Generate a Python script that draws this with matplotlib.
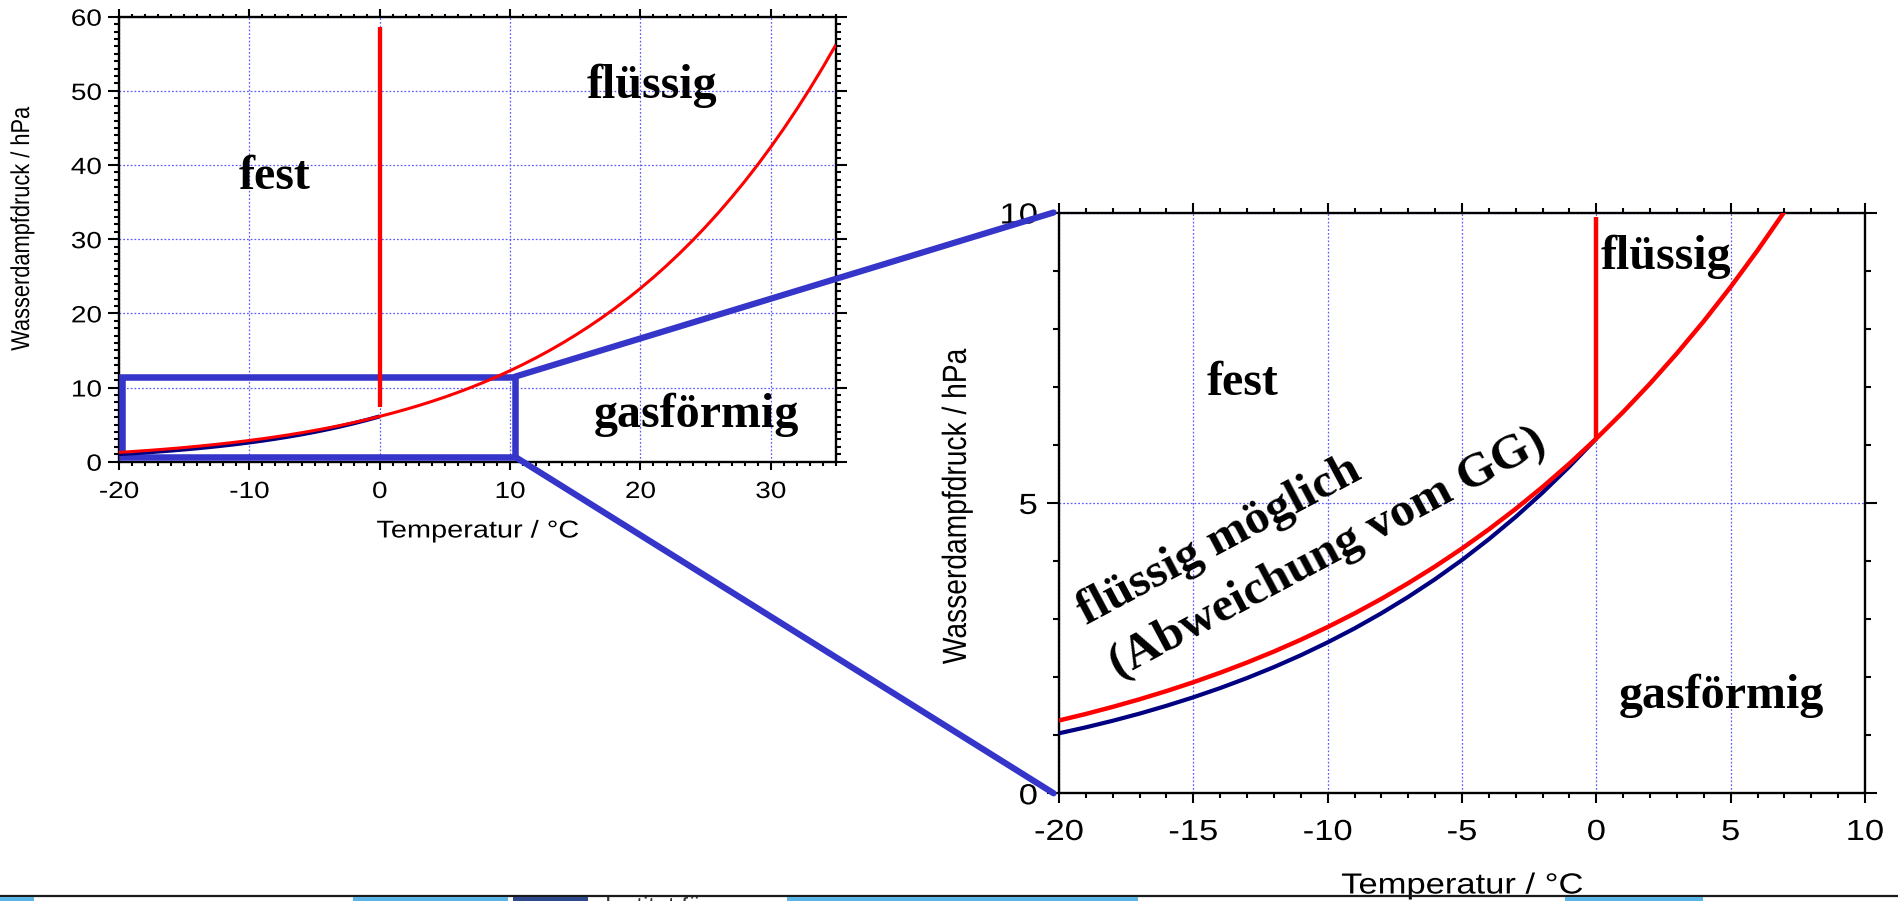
import matplotlib
matplotlib.use("Agg")
import matplotlib.pyplot as plt
from matplotlib.patches import Rectangle, ConnectionPatch
from matplotlib.patheffects import AbstractPathEffect
from matplotlib.transforms import Affine2D
from matplotlib.lines import Line2D

# ---------------------------------------------------------------- data
# Saturation vapour pressure over liquid water (hPa), 1 degC steps
t_water = list(range(-20, 36))
e_water = [1.254, 1.366, 1.488, 1.619, 1.760, 1.912, 2.076, 2.252, 2.441, 2.644,
           2.863, 3.097, 3.348, 3.618, 3.906, 4.215, 4.545, 4.898, 5.275, 5.678,
           6.108, 6.566, 7.055, 7.575, 8.129, 8.719, 9.347, 10.013, 10.722, 11.474,
           12.272, 13.119, 14.017, 14.969, 15.977, 17.044, 18.173, 19.367, 20.630, 21.964,
           23.373, 24.861, 26.430, 28.086, 29.831, 31.671, 33.608, 35.649, 37.796, 40.055,
           42.430, 44.927, 47.551, 50.307, 53.200, 56.236]

# Saturation vapour pressure over ice (hPa), 1 degC steps
t_ice = list(range(-20, 1))
e_ice = [1.033, 1.136, 1.249, 1.372, 1.507, 1.653, 1.812, 1.985, 2.173, 2.377,
         2.599, 2.839, 3.100, 3.382, 3.687, 4.017, 4.375, 4.760, 5.177, 5.627,
         6.107]

# Melting line (0 degC) in both panels
melt_t = [0, 0]
melt_e_overview = [7.4, 58.6]
melt_e_detail = [6.11, 9.92]

# Region of the overview that is enlarged on the right
zoom_t = [-19.8, 10.37]
zoom_e = [0.67, 11.46]

# Axis ranges and ticks
overview_xlim, overview_ylim = (-20, 35), (0, 60)
overview_xticks = [-20, -10, 0, 10, 20, 30]
overview_yticks = [0, 10, 20, 30, 40, 50, 60]
detail_xlim, detail_ylim = (-20, 10), (0, 10)
detail_xticks = [-20, -15, -10, -5, 0, 5, 10]
detail_yticks = [0, 5, 10]

xlabel_text = "Temperatur / °C"
ylabel_text = "Wasserdampfdruck / hPa"

# ---------------------------------------------------------------- style
plt.rcParams["font.family"] = ["Liberation Sans", "DejaVu Sans"]
plt.rcParams["axes.unicode_minus"] = False
RED = "#ff0000"
NAVY = "#000080"
FRAME_BLUE = "#3535c9"
GRID_BLUE = "#5a5aff"
W, H = 1898, 901


class WideGlyphs(AbstractPathEffect):
    """Draw text glyphs widened horizontally around an anchor."""

    def __init__(self, factor=1.19, anchor="center"):
        super().__init__()
        self.factor = factor
        self.anchor = anchor

    def draw_path(self, renderer, gc, tpath, affine, rgbFace=None):
        ext = tpath.get_extents(affine)
        if self.anchor == "right":
            cx = ext.x1
        elif self.anchor == "left":
            cx = ext.x0
        else:
            cx = 0.5 * (ext.x0 + ext.x1)
        widen = Affine2D().translate(-cx, 0).scale(self.factor, 1.0).translate(cx, 0)
        renderer.draw_path(gc, tpath, affine + widen, rgbFace)


def frame(x0, x1, ytop, ybot):
    return [x0 / W, 1 - ybot / H, (x1 - x0) / W, (ybot - ytop) / H]


def px(v):
    return v * 72.0 / 100.0


def style_axes(ax, xlim, ylim, xticks, yticks, size, xlen, ylen, xpad, ypad):
    ax.set_xlim(*xlim)
    ax.set_ylim(*ylim)
    ax.set_xticks(xticks)
    ax.set_yticks(yticks)
    ax.set_xticks(list(range(xlim[0], xlim[1] + 1)), minor=True)
    ax.set_yticks(list(range(ylim[0], ylim[1] + 1)), minor=True)
    for s in ax.spines.values():
        s.set_linewidth(1.7)
        s.set_color("black")
    ax.tick_params(which="both", direction="out", top=True, right=True,
                   width=1.5, color="black", labelsize=size)
    ax.tick_params(axis="x", which="major", length=px(xlen[0]), pad=px(xpad))
    ax.tick_params(axis="x", which="minor", length=px(xlen[1]))
    ax.tick_params(axis="y", which="major", length=px(ylen[0]), pad=px(ypad))
    ax.tick_params(axis="y", which="minor", length=px(ylen[1]))
    ax.grid(which="major", color=GRID_BLUE, linestyle=(0, (1.4, 1.6)), linewidth=0.9)
    for lab in ax.get_xticklabels():
        lab.set_path_effects([WideGlyphs(1.19, "center")])
    for lab in ax.get_yticklabels():
        lab.set_path_effects([WideGlyphs(1.19, "right")])


fig = plt.figure(figsize=(W / 100, H / 100), dpi=100)
fig.patch.set_facecolor("white")

ax1 = fig.add_axes(frame(119, 836, 16.7, 461.7))
ax2 = fig.add_axes(frame(1059, 1865, 212.5, 793.3))

# ---------------------------------------------------------------- overview
style_axes(ax1, overview_xlim, overview_ylim, overview_xticks, overview_yticks,
           16.9, (8, 3.5), (10.7, 4.7), 10.3, 6.6)
ax1.plot(t_ice, e_ice, color=NAVY, lw=3.0, zorder=5, solid_capstyle="butt")
ax1.plot(t_water, e_water, color=RED, lw=2.2, zorder=6, solid_capstyle="butt")
ax1.plot(melt_t, melt_e_overview, color=RED, lw=3.1, zorder=6, solid_capstyle="butt")
ax1.add_patch(Rectangle((zoom_t[0], zoom_e[0]), zoom_t[1] - zoom_t[0],
                        zoom_e[1] - zoom_e[0], fill=False, ec=FRAME_BLUE,
                        lw=4.7, joinstyle="miter", clip_on=False, zorder=4))

serif = dict(family=["Liberation Serif", "DejaVu Serif"], weight="bold",
             fontsize=34.6, ha="left", va="baseline", color="black")
ax1.text(-10.8, 36.75, "fest", **serif)
ax1.text(15.85, 49.0, "flüssig", **serif)
ax1.text(16.45, 4.68, "gasförmig", **serif)

ax1.set_xlabel(xlabel_text, fontsize=17.5)
ax1.xaxis.set_label_coords(0.5, -0.1703)
ax1.xaxis.label.set_va("baseline")
ax1.xaxis.label.set_path_effects([WideGlyphs(1.19, "center")])
ax1.set_ylabel(ylabel_text, fontsize=15.7)
ax1.yaxis.set_label_coords(-0.1346, 0.5218)
ax1.yaxis.label.set_va("center")
ax1.yaxis.label.set_path_effects([WideGlyphs(1.19, "center")])

# ---------------------------------------------------------------- detail
style_axes(ax2, detail_xlim, detail_ylim, detail_xticks, detail_yticks,
           20.9, (10, 5), (11.7, 6), 14.7, 9.6)
ax2.plot(t_ice, e_ice, color=NAVY, lw=3.0, zorder=5, solid_capstyle="butt")
ax2.plot(t_water, e_water, color=RED, lw=3.2, zorder=6, solid_capstyle="butt")
ax2.plot(melt_t, melt_e_detail, color=RED, lw=3.2, zorder=6, solid_capstyle="butt")

ax2.text(-14.49, 6.86, "fest", **serif)
ax2.text(0.17, 9.02, "flüssig", **serif)
ax2.text(0.84, 1.47, "gasförmig", **serif)
rot = dict(serif, fontsize=35.5, rotation=28, rotation_mode="anchor")
ax2.text(-19.0, 2.9, "flüssig möglich", **rot)
ax2.text(-17.8, 1.98, "(Abweichung vom GG)", **rot)

ax2.set_xlabel(xlabel_text, fontsize=20.9)
ax2.xaxis.set_label_coords(0.5, -0.1725)
ax2.xaxis.label.set_va("baseline")
ax2.xaxis.label.set_path_effects([WideGlyphs(1.19, "center")])
ax2.set_ylabel(ylabel_text, fontsize=20.3)
ax2.yaxis.set_label_coords(-0.1259, 0.4947)
ax2.yaxis.label.set_va("center")
ax2.yaxis.label.set_path_effects([WideGlyphs(1.19, "center")])

# ---------------------------------------------------------------- connectors
for (xa, ya), (xb, yb) in [((zoom_t[1], zoom_e[1]), (-20.2, detail_ylim[1])),
                           ((zoom_t[1], zoom_e[0]), (-20.2, detail_ylim[0]))]:
    con = ConnectionPatch(xyA=(xa, ya), coordsA=ax1.transData,
                          xyB=(xb, yb), coordsB=ax2.transData,
                          color=FRAME_BLUE, lw=4.5, zorder=3)
    fig.add_artist(con)

# ---------------------------------------------------------------- footer strip
fig.add_artist(Line2D([0, 1], [1 - 895.5 / H] * 2, transform=fig.transFigure,
                      color="#1a1a1a", lw=1.6, zorder=5))
for x0, x1 in [(0, 34), (353, 508), (787, 1138), (1565, 1703)]:
    fig.add_artist(Rectangle((x0 / W, 0), (x1 - x0) / W, 3.6 / H,
                             transform=fig.transFigure, color="#5ab4e6",
                             lw=0, zorder=5))
fig.add_artist(Rectangle((513 / W, 0), 75 / W, 3.6 / H, transform=fig.transFigure,
                         color="#2f4a8c", lw=0, zorder=5))
fig.text(605 / W, 1 - 897.5 / H, "Institut für", fontsize=17, color="#333333",
         ha="left", va="top", zorder=5)

fig.savefig("out.png", dpi=100, facecolor="white")
